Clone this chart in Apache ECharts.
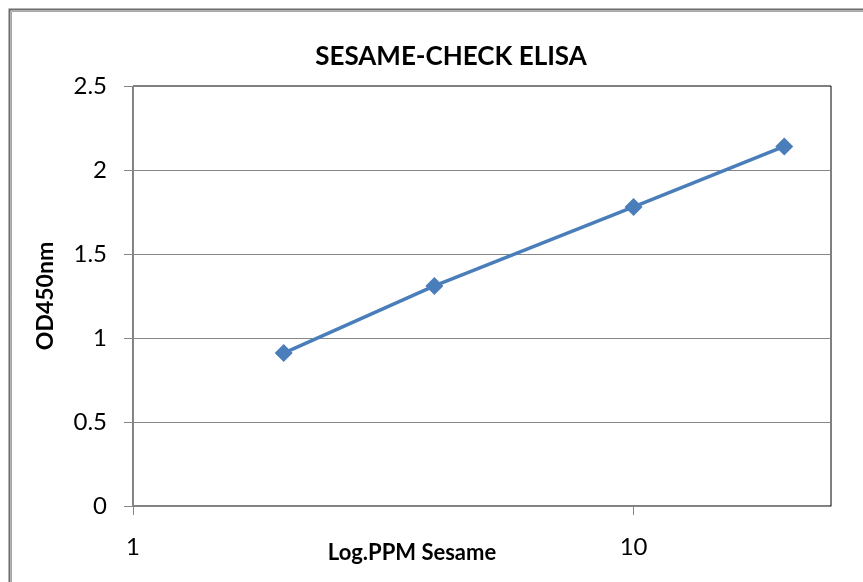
<!DOCTYPE html>
<html>
<head>
<meta charset="utf-8">
<script src="https://cdn.jsdelivr.net/npm/echarts@6/dist/echarts.min.js"></script>
<style>
  html, body { margin: 0; padding: 0; background: #fff; }
  #chart { width: 863px; height: 582px; }
</style>
</head>
<body>
<div id="chart"></div>
<script>
// 数据
var ppm = [2, 4, 10, 20];
var od450 = [0.91, 1.31, 1.78, 2.14];
var xTickValues = [1, 10];
var yTicks = [0, 0.5, 1, 1.5, 2, 2.5];

var fontName = 'Lato';
var chart = echarts.init(document.getElementById('chart'));

var points = [];
for (var i = 0; i < ppm.length; i++) {
  points.push([ppm[i], od450[i]]);
}

var option = {
  backgroundColor: '#fff',
  animation: false,
  title: [
    {
      text: 'SESAME-CHECK ELISA',
      left: 446,
      textAlign: 'center',
      top: 39,
      textStyle: { fontFamily: fontName, fontSize: 26, fontWeight: 'bold', color: '#000' }
    },
    {
      text: 'Log.PPM Sesame',
      left: 407,
      textAlign: 'center',
      top: 537,
      textStyle: { fontFamily: fontName, fontSize: 22, fontWeight: 'bold', color: '#000' }
    }
  ],
  graphic: [
    {
      type: 'rect',
      shape: { x: 9.5, y: 9.5, width: 900, height: 600 },
      style: { fill: 'none', stroke: '#6b6b6b', lineWidth: 2 },
      silent: true
    },
    {
      type: 'rect',
      shape: { x: 11.5, y: 11.5, width: 900, height: 600 },
      style: { fill: 'none', stroke: '#a6a6a6', lineWidth: 1 },
      silent: true
    }
  ],
  grid: {
    left: 133,
    top: 86,
    right: 32,
    bottom: 76,
    show: true,
    borderColor: '#000',
    borderWidth: 1
  },
  xAxis: {
    type: 'log',
    logBase: 10,
    min: 1,
    max: 24.8,
    axisLine: { lineStyle: { color: '#868686', width: 1 } },
    axisTick: { show: true, length: 9, customValues: xTickValues, lineStyle: { color: '#868686' } },
    axisLabel: {
      customValues: xTickValues,
      margin: 29,
      fontFamily: fontName,
      fontSize: 24,
      color: '#000'
    },
    splitLine: { show: false },
    minorTick: { show: false }
  },
  yAxis: {
    type: 'value',
    min: yTicks[0],
    max: yTicks[yTicks.length - 1],
    interval: 0.5,
    name: 'OD450nm',
    nameLocation: 'middle',
    nameGap: 76,
    nameTextStyle: { fontFamily: fontName, fontSize: 23, fontWeight: 'bold', color: '#000' },
    axisLine: { show: true, lineStyle: { color: '#868686', width: 1 } },
    axisTick: { show: true, length: 9, lineStyle: { color: '#868686' } },
    axisLabel: {
      margin: 26,
      fontFamily: fontName,
      fontSize: 24,
      color: '#000'
    },
    splitLine: { show: true, showMinLine: false, showMaxLine: false, lineStyle: { color: '#868686', width: 1 } }
  },
  series: [
    {
      type: 'line',
      data: points,
      symbol: 'diamond',
      symbolSize: 18,
      lineStyle: { color: '#4a7ebb', width: 3.5 },
      itemStyle: { color: '#4a7ebb' }
    }
  ]
};

chart.setOption(option);
</script>
</body>
</html>
